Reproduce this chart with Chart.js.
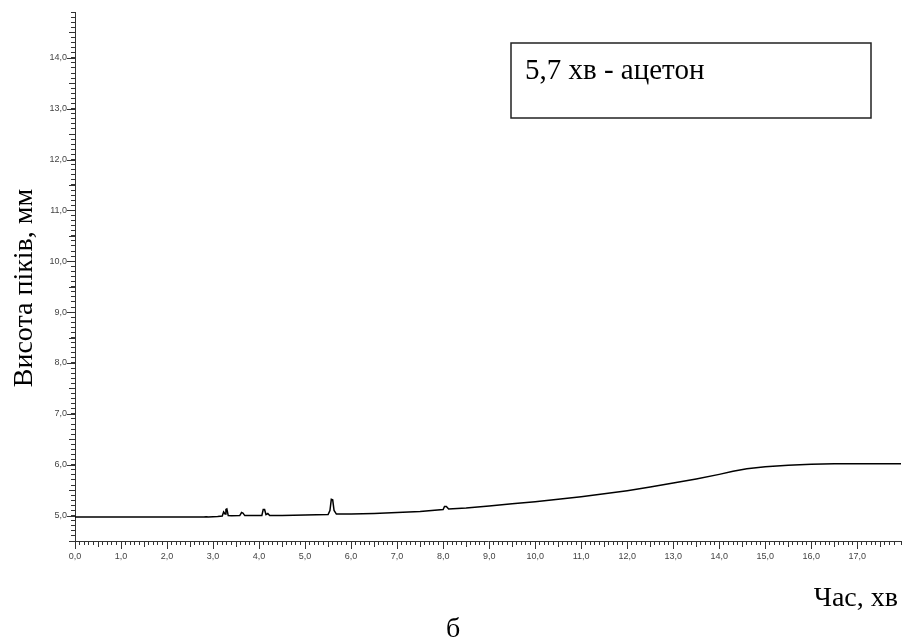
<!DOCTYPE html>
<html>
<head>
<meta charset="utf-8">
<script src="https://cdn.jsdelivr.net/npm/chart.js@4/dist/chart.umd.min.js"></script>
<style>
  body { margin: 0; background: #fff; }
</style>
</head>
<body>
<canvas id="chromChart" width="907" height="641"></canvas>
<script>
// retention time, min
const times = [0, 2.8, 2.85, 2.9, 3.0, 3.1, 3.2, 3.23, 3.26, 3.28, 3.3, 3.33, 3.4, 3.58, 3.62, 3.65, 3.69, 3.9, 4.06, 4.09, 4.12, 4.15, 4.19, 4.23, 4.5, 5.0, 5.5, 5.54, 5.57, 5.6, 5.63, 5.68, 6.0, 6.5, 7.0, 7.5, 8.0, 8.03, 8.07, 8.12, 8.5, 9.0, 9.5, 10.0, 10.5, 11.0, 11.5, 12.0, 12.5, 13.0, 13.5, 14.0, 14.3, 14.6, 15.0, 15.5, 16.0, 16.5, 17.0, 17.95];
// peak height, mm
const heights = [4.97, 4.97, 4.975, 4.97, 4.975, 4.98, 4.99, 5.07, 5.03, 5.12, 5.13, 5.0, 4.995, 5.0, 5.06, 5.05, 5.0, 5.0, 5.0, 5.12, 5.12, 5.02, 5.04, 5.0, 5.0, 5.01, 5.02, 5.1, 5.32, 5.31, 5.1, 5.03, 5.03, 5.04, 5.06, 5.08, 5.12, 5.18, 5.18, 5.13, 5.15, 5.19, 5.23, 5.27, 5.32, 5.37, 5.43, 5.49, 5.56, 5.64, 5.72, 5.81, 5.87, 5.92, 5.96, 5.99, 6.01, 6.02, 6.02, 6.02];

const xTitle = 'Час, хв';
const yTitle = 'Висота піків, мм';
const subCaption = 'б';
const noteText = '5,7 хв - ацетон';

const fmt = v => Math.abs(v - Math.round(v)) < 1e-6 ? v.toFixed(1).replace('.', ',') : '';

// longer marks at whole and half units
const majorTicks = {
  id: 'majorTicks',
  afterDraw(chart) {
    const ctx = chart.ctx, xs = chart.scales.x, ys = chart.scales.y;
    ctx.save();
    ctx.strokeStyle = '#333';
    ctx.lineWidth = 1;
    ctx.beginPath();
    for (let i = 0; i * 0.5 <= xs.max; i++) {
      const px = Math.round(xs.getPixelForValue(i * 0.5)) + 0.5;
      ctx.moveTo(px, xs.top);
      ctx.lineTo(px, xs.top + (i % 2 ? 6 : 8));
    }
    for (let i = Math.ceil(ys.min * 2); i * 0.5 <= ys.max; i++) {
      const py = Math.round(ys.getPixelForValue(i * 0.5)) + 0.5;
      ctx.moveTo(ys.right, py);
      ctx.lineTo(ys.right - (i % 2 ? 6 : 8), py);
    }
    ctx.stroke();
    ctx.restore();
  }
};

const captions = {
  id: 'captions',
  afterDraw(chart) {
    const ctx = chart.ctx;
    ctx.save();
    ctx.fillStyle = '#000';
    ctx.font = '28px "Liberation Serif"';
    ctx.translate(25, 288);
    ctx.rotate(-Math.PI / 2);
    ctx.textAlign = 'center';
    ctx.textBaseline = 'middle';
    ctx.fillText(yTitle, 0, 0);
    ctx.setTransform(1, 0, 0, 1, 0, 0);
    ctx.font = '28px "Liberation Serif"';
    ctx.textBaseline = 'alphabetic';
    ctx.textAlign = 'right';
    ctx.fillText(xTitle, 898, 606);
    ctx.textAlign = 'center';
    ctx.fillText(subCaption, 453, 637);
    // note box
    ctx.strokeStyle = '#222';
    ctx.lineWidth = 1.5;
    ctx.strokeRect(511, 43, 360, 75);
    ctx.font = '29px "Liberation Serif"';
    ctx.textAlign = 'left';
    ctx.fillText(noteText, 525, 79);
    ctx.restore();
  }
};

const ctx = document.getElementById('chromChart').getContext('2d');
const chart = new Chart(ctx, {
  type: 'line',
  data: {
    datasets: [{
      data: times.map((t, i) => ({x: t, y: heights[i]})),
      borderColor: '#000',
      borderWidth: 1.5,
      pointRadius: 0,
      tension: 0,
      fill: false
    }]
  },
  options: {
    responsive: false,
    animation: false,
    layout: { padding: { top: 12, right: 4, left: 0, bottom: 0 } },
    plugins: { legend: { display: false }, tooltip: { enabled: false } },
    scales: {
      x: {
        type: 'linear',
        min: 0,
        max: 17.95,
        afterFit(scale) { scale.height = 100; },
        border: { color: '#333', width: 1 },
        grid: { drawOnChartArea: false, tickLength: 4, tickColor: '#333' },
        ticks: {
          stepSize: 0.1, autoSkip: false, maxRotation: 0, padding: 6,
          color: '#444', font: { family: 'Liberation Sans', size: 9 },
          callback: fmt
        }
      },
      y: {
        min: 4.5,
        max: 14.9,
        afterFit(scale) { scale.width = 75; },
        border: { color: '#333', width: 1 },
        grid: { drawOnChartArea: false, tickLength: 4, tickColor: '#333' },
        ticks: {
          stepSize: 0.1, autoSkip: false, padding: 4,
          color: '#444', font: { family: 'Liberation Sans', size: 9 },
          callback: fmt
        }
      }
    }
  },
  plugins: [majorTicks, captions]
});
</script>
</body>
</html>
